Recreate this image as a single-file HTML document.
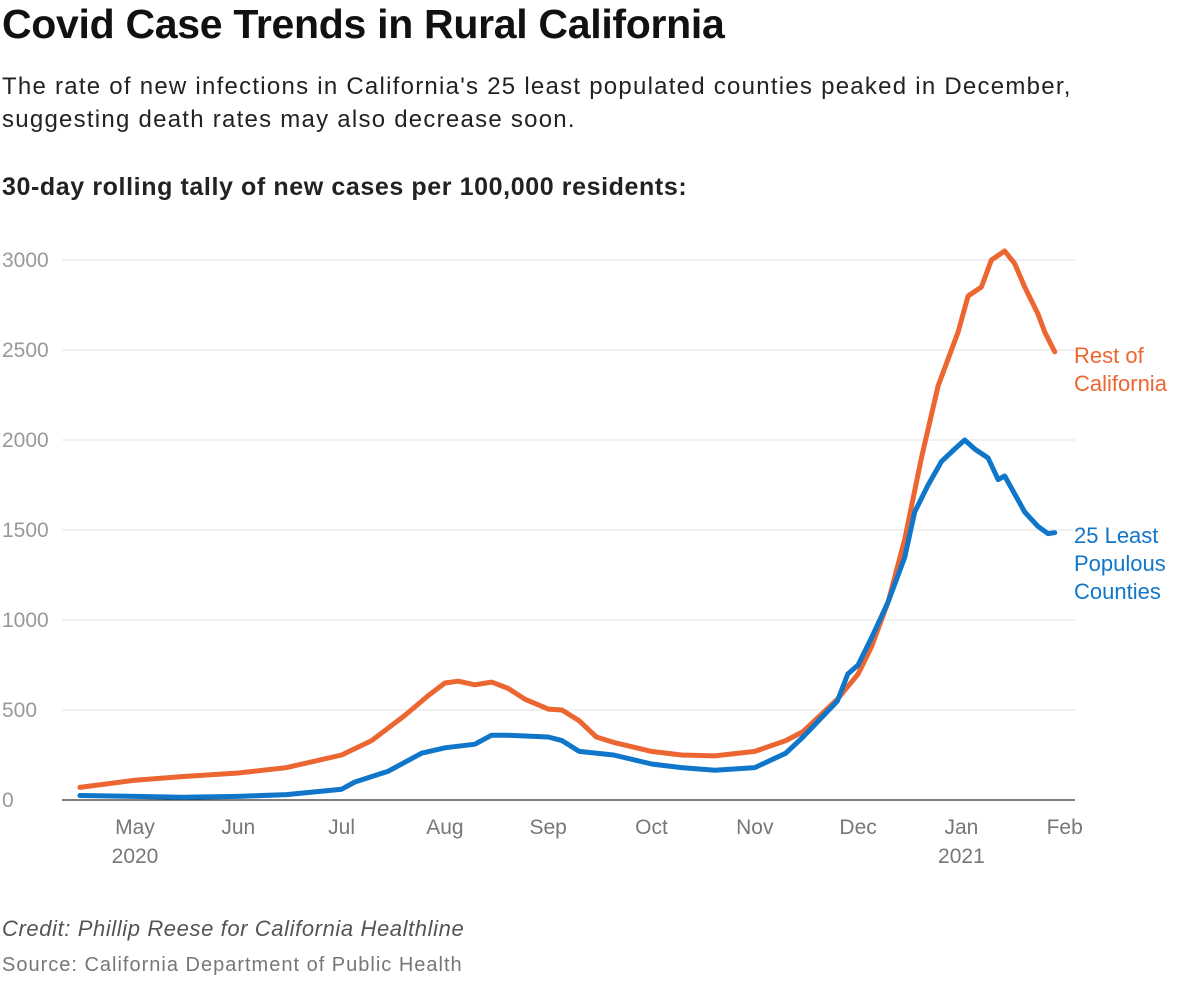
<!DOCTYPE html>
<html><head><meta charset="utf-8"><style>
body{margin:0;background:#fff;font-family:"Liberation Sans",sans-serif;width:1200px;height:990px;overflow:hidden;position:relative}
.t{position:absolute;left:2px;margin:0;white-space:nowrap}
</style></head><body>
<h1 class="t" style="top:1px;font-size:41px;font-weight:bold;color:#111;letter-spacing:-0.3px">Covid Case Trends in Rural California</h1>
<p class="t" style="top:70px;font-size:24px;line-height:33px;color:#222;letter-spacing:1.25px">The rate of new infections in California's 25 least populated counties peaked in December,<br>suggesting death rates may also decrease soon.</p>
<p class="t" style="top:173px;font-size:25px;font-weight:bold;color:#222;letter-spacing:0.6px">30-day rolling tally of new cases per 100,000 residents:</p>
<svg id="chart" width="1200" height="990" style="position:absolute;left:0;top:0"></svg>
<p class="t" style="top:916px;font-size:22px;font-style:italic;color:#555;letter-spacing:0.6px">Credit: Phillip Reese for California Healthline</p>
<p class="t" style="top:954px;font-size:20px;color:#777;letter-spacing:1px">Source: California Department of Public Health</p>
<script>
const yTicks=[0,500,1000,1500,2000,2500,3000];
const monthLabels=["May","Jun","Jul","Aug","Sep","Oct","Nov","Dec","Jan","Feb"];
const monthDates=["2020-05-01","2020-06-01","2020-07-01","2020-08-01","2020-09-01","2020-10-01","2020-11-01","2020-12-01","2021-01-01","2021-02-01"];
const restDates=["2020-04-15","2020-05-01","2020-05-15","2020-06-01","2020-06-15","2020-07-01","2020-07-10","2020-07-20","2020-07-27","2020-08-01","2020-08-05","2020-08-10","2020-08-15","2020-08-20","2020-08-25","2020-09-01","2020-09-05","2020-09-10","2020-09-15","2020-09-20","2020-10-01","2020-10-10","2020-10-20","2020-11-01","2020-11-10","2020-11-15","2020-11-20","2020-11-25","2020-12-01","2020-12-05","2020-12-10","2020-12-15","2020-12-20","2020-12-25","2020-12-31","2021-01-03","2021-01-07","2021-01-10","2021-01-14","2021-01-17","2021-01-20","2021-01-24","2021-01-26","2021-01-29"];
const restValues=[70,110,130,150,180,250,330,470,580,650,660,640,655,620,560,505,500,440,350,320,270,250,245,270,330,380,470,560,700,850,1100,1450,1900,2300,2600,2800,2850,3000,3050,2980,2850,2700,2600,2490];
const ruralDates=["2020-04-15","2020-05-01","2020-05-15","2020-06-01","2020-06-15","2020-07-01","2020-07-05","2020-07-15","2020-07-25","2020-08-01","2020-08-10","2020-08-15","2020-08-20","2020-09-01","2020-09-05","2020-09-10","2020-09-20","2020-10-01","2020-10-10","2020-10-20","2020-11-01","2020-11-10","2020-11-15","2020-11-20","2020-11-25","2020-11-28","2020-12-01","2020-12-05","2020-12-10","2020-12-15","2020-12-18","2020-12-22","2020-12-26","2020-12-30","2021-01-02","2021-01-05","2021-01-09","2021-01-12","2021-01-14","2021-01-17","2021-01-20","2021-01-24","2021-01-27","2021-01-29"];
const ruralValues=[25,20,15,20,30,60,100,160,260,290,310,360,360,350,330,270,250,200,180,165,180,260,350,450,550,700,750,900,1100,1350,1600,1750,1880,1950,2000,1950,1900,1780,1800,1700,1600,1520,1480,1485];
const svg=document.getElementById('chart');const NS="http://www.w3.org/2000/svg";
const MW=103.3;
function x(d){const dt=new Date(d+"T00:00:00Z");const y=dt.getUTCFullYear(),m=dt.getUTCMonth();const dim=new Date(Date.UTC(y,m+1,0)).getUTCDate();const mi=(y-2020)*12+m-4;return 135+(mi+(dt.getUTCDate()-1)/dim)*MW;}
function y(v){return 800-v*0.18;}
function mk(t,a,txt){const e=document.createElementNS(NS,t);for(const k in a)e.setAttribute(k,a[k]);if(txt!==undefined)e.textContent=txt;svg.appendChild(e);return e;}
yTicks.forEach(v=>{
 const l=mk('line',{x1:62,x2:1075,y1:y(v),y2:y(v),stroke:v?'#e0e0e0':'#333','stroke-width':v?1:1.3});
 
 
 const t=mk('text',{x:2,y:y(v)+7,'font-size':21,fill:'#999','font-family':'Liberation Sans'},v);
 
 
});
monthLabels.forEach((m,i)=>{
 const t=mk('text',{x:x(monthDates[i]),y:834,'font-size':21,fill:'#777','text-anchor':'middle','font-family':'Liberation Sans'},m);
 
 
});
[["2020","2020-05-01"],["2021","2021-01-01"]].forEach(p=>{
 const t=mk('text',{x:x(p[1]),y:863,'font-size':21,fill:'#777','text-anchor':'middle','font-family':'Liberation Sans'},p[0]);
 
 
});
function line(ds,vs,c,name){
 const p=mk('path',{d:ds.map((d,i)=>(i?'L':'M')+x(d).toFixed(1)+','+y(vs[i]).toFixed(1)).join(''),fill:'none',stroke:c,'stroke-width':5,'stroke-linejoin':'round','stroke-linecap':'round'});
 
 
}
line(restDates,restValues,'#ec6632','rest-of-california-line');
line(ruralDates,ruralValues,'#0f76c9','least-populous-line');
function lab(lines,y0,c,name){
 const t=mk('text',{x:1074,y:y0,'font-size':22,fill:c,'font-family':'Liberation Sans'});
 
 
 lines.forEach((s,i)=>{const ts=document.createElementNS(NS,'tspan');ts.setAttribute('x',1074);ts.setAttribute('dy',i?28:0);ts.textContent=s;t.appendChild(ts);});
}
lab(["Rest of","California"],363,'#ec6632','rest-of-california-label');
lab(["25 Least","Populous","Counties"],543,'#0f76c9','least-populous-label');
</script>
</body></html>
